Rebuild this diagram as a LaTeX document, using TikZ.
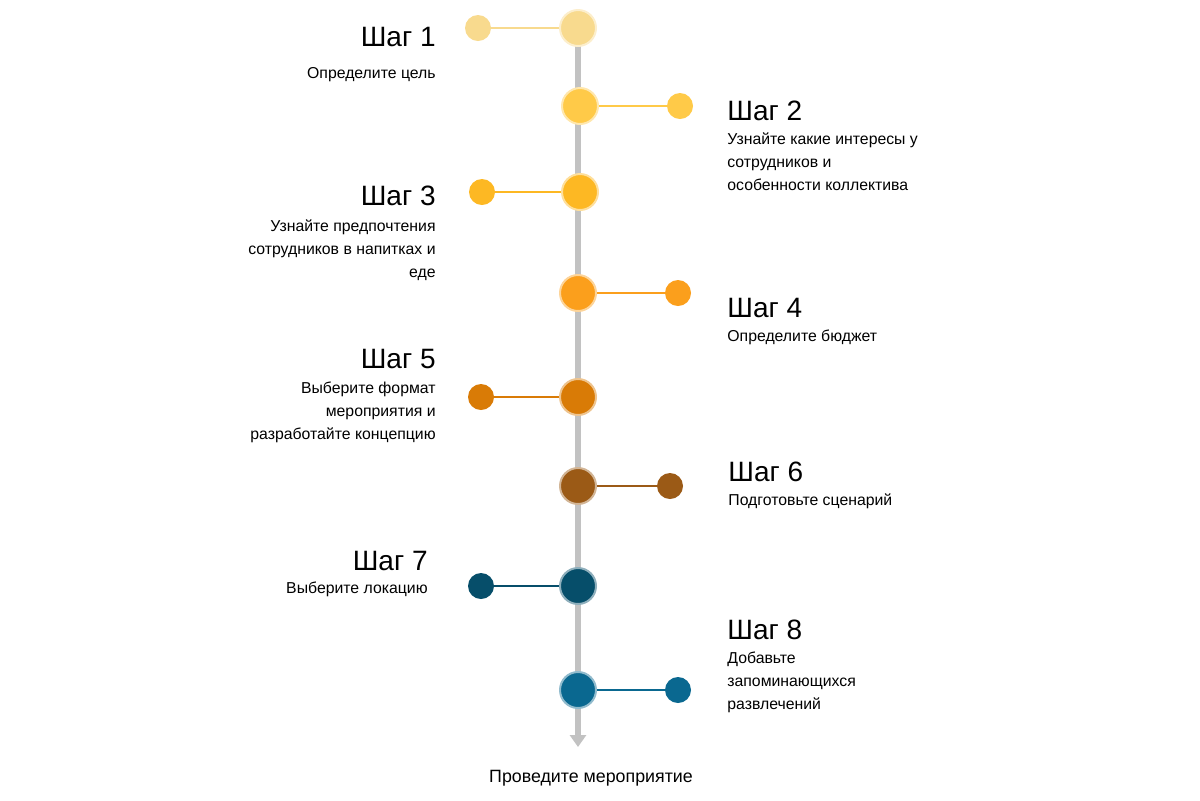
\documentclass[tikz,border=0pt]{standalone}
\usepackage{fontspec}
\setmainfont{Liberation Sans}
\usetikzlibrary{arrows.meta}

\definecolor{cA}{HTML}{F8DA8E}
\definecolor{cB}{HTML}{FFCA48}
\definecolor{cC}{HTML}{FDB823}
\definecolor{cD}{HTML}{FB9F1C}
\definecolor{cE}{HTML}{D97B06}
\definecolor{cF}{HTML}{9B5A16}
\definecolor{cG}{HTML}{064E6A}
\definecolor{cH}{HTML}{0A6890}
\definecolor{spine}{HTML}{C2C2C2}

\tikzset{
  bigdot/.style={circle,minimum size=18pt,inner sep=0pt,fill=#1,draw=#1!45!white,line width=1pt},
  smalldot/.style={circle,minimum size=13pt,inner sep=0pt,fill=#1},
  link/.style={draw=#1,line width=1.3pt},
  steptitle/.style={inner sep=0pt,font=\fontsize{14}{16}\selectfont},
  stepdesc/.style={inner sep=0pt,font=\fontsize{7.9}{11.5}\selectfont}
}

\begin{document}
\begin{tikzpicture}[x=0.5pt,y=-0.5pt]
  \useasboundingbox (0,0) rectangle (1200,800);
  % spine
  \coordinate (top) at (578,30);
  \coordinate (end) at (578,747);
  \draw[spine,line width=2.6pt,-{Triangle[width=8pt,length=6pt]}] (top) -- (end);
  \node[font=\fontsize{8.9}{10}\selectfont,anchor=base] (goal) at (591,782) {Проведите мероприятие};

  % step 1
  \node[bigdot=cA] (m1) at (578,28) {};
  \node[smalldot=cA] (s1) at (478,28) {};
  \draw[link=cA] (m1) -- (s1);
  \node[steptitle,anchor=base east] (t1) at (436,46) {Шаг 1};
  \node[stepdesc,anchor=base east] (d1) at (436,78) {Определите цель};

  % step 2
  \node[bigdot=cB] (m2) at (580,106) {};
  \node[smalldot=cB] (s2) at (680,106) {};
  \draw[link=cB] (m2) -- (s2);
  \node[steptitle,anchor=base west] (t2) at (727,120) {Шаг 2};
  \node[stepdesc,anchor=north west,align=left] (d2) at (727,128)
    {\strut Узнайте какие интересы у\\сотрудников и\\особенности коллектива};

  % step 3
  \node[bigdot=cC] (m3) at (580,192) {};
  \node[smalldot=cC] (s3) at (482,192) {};
  \draw[link=cC] (m3) -- (s3);
  \node[steptitle,anchor=base east] (t3) at (436,205) {Шаг 3};
  \node[stepdesc,anchor=north east,align=right] (d3) at (436,215)
    {\strut Узнайте предпочтения\\сотрудников в напитках и\\еде};

  % step 4
  \node[bigdot=cD] (m4) at (578,293) {};
  \node[smalldot=cD] (s4) at (678,293) {};
  \draw[link=cD] (m4) -- (s4);
  \node[steptitle,anchor=base west] (t4) at (727,317) {Шаг 4};
  \node[stepdesc,anchor=base west] (d4) at (727,341) {Определите бюджет};

  % step 5
  \node[bigdot=cE] (m5) at (578,397) {};
  \node[smalldot=cE] (s5) at (481,397) {};
  \draw[link=cE] (m5) -- (s5);
  \node[steptitle,anchor=base east] (t5) at (436,368) {Шаг 5};
  \node[stepdesc,anchor=north east,align=right] (d5) at (436,377)
    {\strut Выберите формат\\мероприятия и\\разработайте концепцию};

  % step 6
  \node[bigdot=cF] (m6) at (578,486) {};
  \node[smalldot=cF] (s6) at (670,486) {};
  \draw[link=cF] (m6) -- (s6);
  \node[steptitle,anchor=base west] (t6) at (728,481) {Шаг 6};
  \node[stepdesc,anchor=base west] (d6) at (728,505) {Подготовьте сценарий};

  % step 7
  \node[bigdot=cG] (m7) at (578,586) {};
  \node[smalldot=cG] (s7) at (481,586) {};
  \draw[link=cG] (m7) -- (s7);
  \node[steptitle,anchor=base east] (t7) at (428,570) {Шаг 7};
  \node[stepdesc,anchor=base east] (d7) at (428,593) {Выберите локацию};

  % step 8
  \node[bigdot=cH] (m8) at (578,690) {};
  \node[smalldot=cH] (s8) at (678,690) {};
  \draw[link=cH] (m8) -- (s8);
  \node[steptitle,anchor=base west] (t8) at (727,639) {Шаг 8};
  \node[stepdesc,anchor=north west,align=left] (d8) at (727,647)
    {\strut Добавьте\\запоминающихся\\развлечений};
\end{tikzpicture}
\end{document}
